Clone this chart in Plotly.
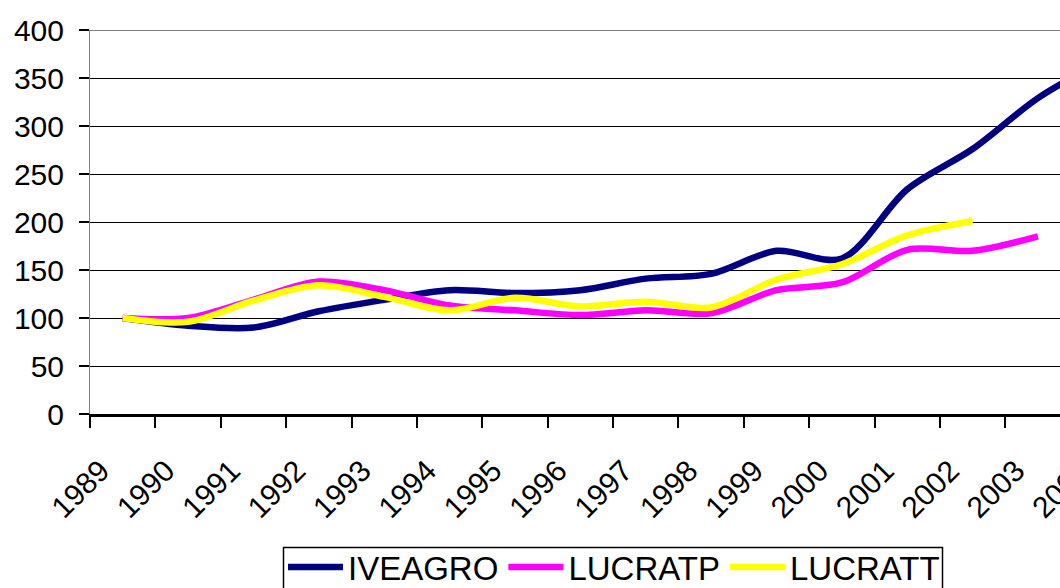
import plotly.graph_objects as go

years = ["1989", "1990", "1991", "1992", "1993", "1994", "1995", "1996",
         "1997", "1998", "1999", "2000", "2001", "2002", "2003", "2004"]
iveagro = [100, 92, 90, 107, 119, 129, 126, 129, 141, 146, 170, 162, 234, 276, 329, 368]
lucratp = [100, 100, 119, 138, 129, 113, 108, 103, 108, 105, 129, 137, 171, 170, 185]
lucratt = [100, 96, 118, 134, 122, 108, 121, 112, 117, 111, 140, 156, 186, 201]

FONT = "Liberation Sans, Arial, sans-serif"

def px_x(p):
    return (p - 90) / 1046

def px_y(p):
    return (414 - p) / 384

fig = go.Figure()
for name, vals, col in [("IVEAGRO", iveagro, "#000080"),
                        ("LUCRATP", lucratp, "#FF00FF"),
                        ("LUCRATT", lucratt, "#FFFF00")]:
    fig.add_trace(go.Scatter(x=years[:len(vals)], y=vals, name=name, mode="lines",
                             line=dict(color=col, width=6.5, shape="spline", smoothing=0.9)))

fig.update_layout(
    width=1140, height=640,
    margin=dict(l=90, r=4, t=30, b=226, autoexpand=False),
    paper_bgcolor="white", plot_bgcolor="white",
    font=dict(family=FONT, color="black"),
    showlegend=True,
    legend=dict(orientation="h", x=px_x(283), xanchor="left",
                y=px_y(539), yanchor="top",
                borderwidth=0, bgcolor="rgba(0,0,0,0)",
                font=dict(size=33, family=FONT, color="black"),
                itemwidth=55, tracegroupgap=0),
    xaxis=dict(type="category", categoryorder="array", categoryarray=years,
               range=[-0.5, 15.5], tickson="boundaries",
               ticks="outside", ticklen=11, tickwidth=2, tickcolor="black",
               showline=True, linecolor="black", linewidth=3,
               showgrid=False, tickangle=-45, automargin=False,
               ticklabelstandoff=24, ticklabelshift=-22,
               tickfont=dict(size=30, family=FONT, color="black")),
    yaxis=dict(range=[0, 400], tickvals=[0, 50, 100, 150, 200, 250, 300, 350, 400],
               ticks="outside", ticklen=10, tickwidth=2, tickcolor="black",
               showline=True, linecolor="#808080", linewidth=1, automargin=False,
               showgrid=True, gridcolor="black", gridwidth=1.4, zeroline=False,
               ticklabelstandoff=9,
               tickfont=dict(size=30, family=FONT, color="black")),
)
fig.add_shape(type="line", xref="paper", yref="y", x0=0, x1=1, y0=400, y1=400,
              line=dict(color="#808080", width=2), layer="above")
fig.add_shape(type="rect", xref="paper", yref="paper",
              x0=px_x(283.5), x1=px_x(942.5), y0=px_y(547.5), y1=px_y(630),
              line=dict(color="black", width=1.5), fillcolor="rgba(0,0,0,0)", layer="above")

fig.write_html("out.html", config={"displayModeBar": False},
               post_script="document.body.style.margin='0';document.body.style.overflow='hidden';")
